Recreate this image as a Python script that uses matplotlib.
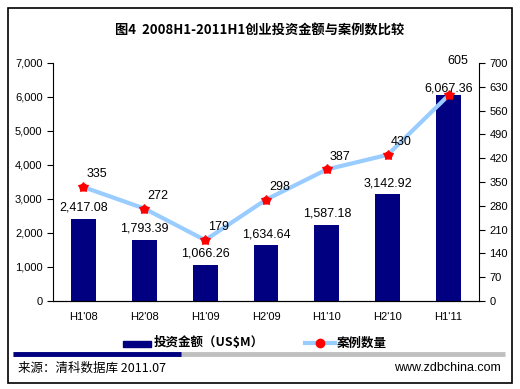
import numpy as np
import matplotlib
matplotlib.use("Agg")
import matplotlib.pyplot as plt
from matplotlib.lines import Line2D
from matplotlib.patches import Rectangle

plt.rcParams['font.family'] = ['Liberation Sans', 'Noto Sans CJK SC', 'DejaVu Sans']

categories = ["H1'08", "H2'08", "H1'09", "H2'09", "H1'10", "H2'10", "H1'11"]
# bar heights as drawn in the picture
amounts = [2417.08, 1793.39, 1066.26, 1634.64, 2250.0, 3142.92, 6067.36]
# labels as printed in the picture
amount_labels = ["2,417.08", "1,793.39", "1,066.26", "1,634.64", "1,587.18", "3,142.92", "6,067.36"]
cases = [335, 272, 179, 298, 387, 430, 605]

title = "图4  2008H1-2011H1创业投资金额与案例数比较"
bar_name = "投资金额（US$M）"
line_name = "案例数量"
source = "来源：清科数据库 2011.07"
site = "www.zdbchina.com"

W, H = 520, 389
fig = plt.figure(figsize=(W / 100, H / 100), dpi=100)
fig.patch.set_facecolor('white')

def fx(px):
    return px / W

def fy(py):
    return 1 - py / H

# outer frame
fig.patches.append(Rectangle((fx(8), fy(383)), fx(504), 375 / H, transform=fig.transFigure,
                             fill=False, edgecolor='black', linewidth=1.2))

ax = fig.add_axes([fx(53), fy(301), fx(479 - 53), (301 - 63) / H])
x = np.arange(len(categories))
ax.bar(x, amounts, width=0.41, color='#000080', zorder=2)
ax.set_xlim(-0.5, len(categories) - 0.5)
ax.set_ylim(0, 7000)
ax.set_yticks(np.arange(0, 7001, 1000))
ax.set_yticklabels([f"{v:,}" for v in range(0, 7001, 1000)], fontsize=8)
ax.set_xticks(x)
ax.set_xticklabels(categories, fontsize=8)
ax.tick_params(axis='x', length=0, pad=8)
ax.tick_params(axis='y', direction='out', length=4)
ax.spines['top'].set_visible(False)
ax.spines['right'].set_visible(False)

ax2 = ax.twinx()
ax2.plot(x, cases, color='#99ccff', linewidth=3, zorder=3)
ax2.plot(x, cases, linestyle='none', marker='o', markersize=5, color='red', zorder=4)
ax2.plot(x, cases, linestyle='none', marker='*', markersize=7, color='red', zorder=4)
ax2.set_ylim(0, 700)
ax2.set_yticks(np.arange(0, 701, 70))
ax2.tick_params(axis='y', direction='out', length=4, labelsize=8)
ax2.spines['top'].set_visible(False)
ax2.spines['left'].set_visible(False)

last = len(categories) - 1
for i, lab in enumerate(amount_labels):
    off = 20 if i == last else 150
    ax2.text(x[i], amounts[i] / 10 + off / 10, lab, ha='center', va='bottom', fontsize=9, zorder=5)
for i, c in enumerate(cases):
    if i == last:
        ax2.text(x[i] + 0.15, 688, str(c), ha='center', va='bottom', fontsize=9)
    else:
        ax2.text(x[i] + 0.05, c + 20, str(c), ha='left', va='bottom', fontsize=9)

fig.text(0.5, fy(31), title, ha='center', va='center', fontsize=9.5, fontweight='bold',
         family=['Noto Sans CJK SC', 'DejaVu Sans'])

# legend
fig.patches.append(Rectangle((fx(123), fy(347)), fx(28), 6 / H, transform=fig.transFigure,
                             color='#000080'))
fig.text(fx(154), fy(343), bar_name, ha='left', va='center', fontsize=9, fontweight='bold',
         family=['Noto Sans CJK SC', 'DejaVu Sans'])
fig.lines.append(Line2D([fx(305), fx(335)], [fy(343), fy(343)], transform=fig.transFigure,
                        color='#99ccff', linewidth=3))
fig.lines.append(Line2D([fx(320)], [fy(343)], transform=fig.transFigure,
                        marker='o', markersize=6, color='red'))
fig.text(fx(337), fy(343), line_name, ha='left', va='center', fontsize=9, fontweight='bold',
         family=['Noto Sans CJK SC', 'DejaVu Sans'])

# bottom bar
fig.lines.append(Line2D([fx(13), fx(505)], [fy(354), fy(354)], transform=fig.transFigure,
                        color='#c0c0c0', linewidth=3.5, solid_capstyle='butt'))
fig.lines.append(Line2D([fx(13), fx(181)], [fy(354), fy(354)], transform=fig.transFigure,
                        color='#000080', linewidth=3.5, solid_capstyle='butt'))

fig.text(fx(18), fy(368), source, ha='left', va='center', fontsize=9,
         family=['Noto Sans CJK SC', 'DejaVu Sans'])
fig.text(fx(501), fy(368), site, ha='right', va='center', fontsize=9)

fig.savefig('out.png', dpi=100)
